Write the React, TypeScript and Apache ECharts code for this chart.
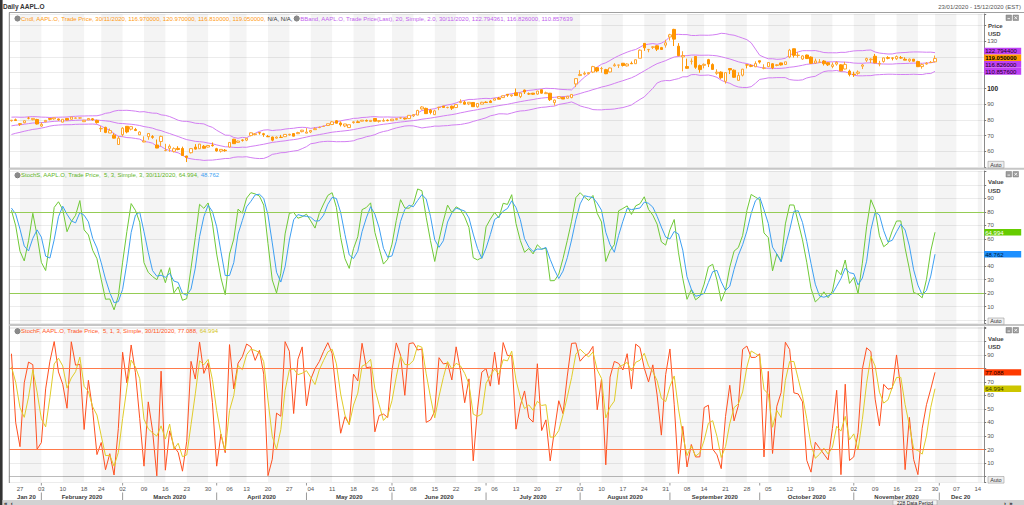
import React, { useEffect, useRef } from 'react';
import * as echarts from 'echarts';

const FONT = '"Liberation Sans", Arial, sans-serif';

// ---- calendar (trading days shown on the axis: 23/01/2020 - 15/12/2020) ----
const holidays = ['2020-02-17', '2020-04-10', '2020-05-25', '2020-07-03', '2020-09-07', '2020-11-26'];
const monthNames = ['Jan 20', 'February 2020', 'March 2020', 'April 2020', 'May 2020', 'June 2020', 'July 2020',
  'August 2020', 'September 2020', 'October 2020', 'November 2020', 'Dec 20'];

// ---- warm-up bars before the first visible day (needed by BBand 20 / Stoch 5) ----
const warmClose = [71.07, 72.48, 72.45, 72.88, 73.41, 75.09, 74.36, 74.95, 74.60, 75.80, 77.41, 77.58, 79.24, 78.17, 77.83, 78.81, 79.68, 79.14, 79.43];
const warmHigh = [71.22, 72.50, 73.49, 73.17, 73.42, 75.15, 75.14, 74.99, 75.22, 76.11, 77.61, 78.17, 79.27, 79.39, 78.88, 78.93, 79.68, 79.75, 79.99];
const warmLow = [70.73, 71.18, 72.03, 71.31, 72.38, 73.80, 74.13, 73.19, 74.37, 74.29, 76.55, 77.06, 77.79, 78.04, 77.39, 78.02, 78.75, 79.00, 79.33];

// ---- AAPL.O daily OHLC, 23/01/2020 - 30/11/2020 ----
const open = [
  79.48, 80.06, 77.51, 78.15, 81.11, 80.14, 80.23,
  76.07, 78.83, 80.88, 80.64, 80.59, 78.54, 80.90, 80.37, 81.05, 81.18, 78.84, 80.00, 80.66, 79.65, 74.32, 75.24, 71.63, 70.28, 64.32,
  70.57, 75.92, 74.11, 73.88, 70.50, 65.94, 69.29, 69.35, 63.99, 66.22, 60.49, 61.88, 59.94, 61.85, 61.79, 57.02, 59.09, 62.69, 61.63, 63.19, 62.69, 63.90,
  61.63, 60.09, 60.70, 62.73, 67.70, 65.68, 67.18, 67.08, 70.00, 70.60, 71.85, 71.17, 69.49, 69.07, 68.40, 68.97, 69.30, 70.45, 71.27, 71.18, 72.49,
  71.56, 72.29, 73.76, 75.11, 75.81, 76.41, 77.03, 79.46, 78.04, 76.13, 75.09, 78.29, 78.76, 79.17, 79.67, 78.94, 80.88, 79.04, 79.19, 79.81,
  79.44, 80.19, 81.17, 81.10, 80.84, 82.56, 83.04, 86.98, 87.33, 86.18, 83.31, 87.87, 88.79, 87.85, 88.66, 87.84, 91.00, 91.25, 90.18, 91.10, 88.31, 90.02,
  91.28, 91.96, 92.50, 93.85, 94.18, 96.26, 95.34, 97.27, 94.84, 98.99, 96.56, 96.99, 96.42, 99.17, 96.69, 96.99, 90.99, 93.71, 94.37, 93.75, 94.19, 102.89,
  108.20, 109.13, 109.38, 110.41, 113.21, 112.60, 111.97, 110.50, 114.43, 114.83, 116.06, 114.35, 115.98, 115.75, 119.26, 128.70, 124.70, 126.18, 127.14, 126.01, 127.58,
  132.76, 137.59, 126.91, 120.07, 113.95, 117.26, 120.36, 114.57, 114.72, 118.33, 115.23, 109.72, 110.40, 104.54, 112.68, 111.62, 105.17, 108.43, 115.01, 114.55, 113.79,
  117.64, 112.89, 113.91, 115.70, 114.62, 116.25, 115.28, 120.06, 125.27, 121.00, 118.72, 121.28, 119.96, 116.20, 116.67, 117.45, 116.39, 114.01, 115.49, 115.05, 112.37, 111.06,
  109.11, 109.66, 114.14, 117.95, 118.32, 120.50, 115.55, 117.19, 119.62, 119.44, 118.92, 119.55, 118.61, 117.59, 118.64, 117.18, 113.91, 115.55, 116.57, 116.97,
];
const high = [
  79.89, 80.83, 77.94, 79.60, 81.96, 81.02, 80.67,
  78.37, 79.91, 81.19, 81.31, 80.85, 80.39, 80.97, 81.81, 81.55, 81.50, 79.94, 81.14, 81.16, 80.11, 76.04, 75.63, 74.47, 71.50, 69.60,
  75.36, 76.00, 75.85, 74.89, 72.71, 69.52, 71.61, 70.31, 67.50, 69.98, 64.77, 64.40, 62.50, 63.21, 62.96, 57.13, 61.92, 64.56, 64.67, 63.97, 63.88, 65.62,
  62.18, 61.29, 61.43, 65.78, 67.93, 66.84, 67.52, 68.43, 72.06, 71.58, 72.05, 71.74, 70.42, 69.31, 69.48, 70.44, 70.75, 71.14, 71.46, 72.42, 73.63,
  74.75, 73.42, 75.25, 75.81, 76.29, 77.59, 79.26, 79.92, 78.99, 77.45, 76.97, 79.13, 79.63, 79.88, 80.22, 79.81, 81.06, 79.68, 80.86, 80.29,
  80.59, 80.86, 81.55, 81.40, 82.94, 83.40, 86.40, 88.69, 87.76, 86.95, 86.42, 88.30, 88.85, 88.36, 89.14, 89.87, 93.10, 92.20, 91.25, 91.33, 90.54, 91.50,
  91.84, 92.62, 93.95, 94.66, 95.38, 96.32, 95.98, 99.96, 97.26, 99.25, 97.41, 97.15, 98.50, 99.25, 97.97, 97.08, 92.97, 94.91, 94.55, 95.23, 96.30, 106.42,
  111.64, 110.79, 110.39, 114.41, 113.68, 113.78, 112.48, 113.28, 116.04, 115.00, 116.09, 116.00, 117.16, 118.39, 124.87, 128.79, 125.18, 126.99, 127.49, 126.44, 131.00,
  134.80, 137.98, 128.84, 123.70, 118.99, 119.14, 120.50, 115.23, 115.93, 118.83, 116.00, 112.20, 110.88, 110.19, 112.86, 112.11, 110.25, 112.44, 115.32, 115.31, 117.26,
  117.72, 115.37, 116.65, 116.12, 115.55, 116.40, 117.00, 125.18, 125.39, 123.03, 121.20, 121.55, 120.42, 118.98, 118.71, 118.04, 116.55, 116.55, 117.28, 115.43, 116.93, 111.99,
  110.68, 111.49, 115.59, 119.62, 119.20, 121.99, 117.59, 119.63, 120.53, 119.67, 120.99, 120.67, 119.82, 119.06, 118.77, 117.62, 115.85, 116.75, 117.49, 120.97,
];
const low = [
  78.91, 79.38, 76.22, 77.89, 80.35, 79.69, 77.07,
  75.56, 78.41, 79.74, 80.07, 79.50, 78.46, 79.68, 80.37, 80.84, 80.71, 78.65, 80.00, 79.55, 77.63, 72.31, 71.53, 71.63, 68.24, 64.09,
  69.43, 71.45, 73.28, 72.85, 70.31, 65.75, 67.34, 67.96, 62.00, 63.24, 60.00, 59.60, 59.28, 60.65, 57.00, 53.15, 58.58, 61.08, 61.59, 61.76, 62.35, 63.00,
  59.78, 59.22, 59.74, 62.35, 64.75, 65.31, 66.18, 66.46, 69.51, 70.16, 70.59, 69.21, 69.21, 66.36, 68.05, 68.72, 69.25, 69.99, 69.55, 70.97, 72.09,
  71.46, 71.58, 73.61, 74.72, 75.49, 76.07, 76.81, 77.73, 75.80, 75.38, 75.05, 77.58, 78.25, 79.04, 78.97, 78.84, 79.13, 78.27, 78.91, 79.12,
  79.30, 79.73, 80.58, 80.19, 80.81, 81.83, 83.00, 86.52, 83.87, 83.56, 83.15, 86.18, 87.77, 87.31, 86.29, 87.79, 90.57, 89.63, 89.39, 88.25, 87.82, 90.00,
  90.98, 90.91, 92.47, 93.06, 94.09, 94.67, 94.71, 95.26, 93.88, 96.49, 95.91, 95.84, 96.06, 96.74, 96.60, 92.01, 89.14, 93.48, 93.25, 93.71, 93.77, 100.83,
  107.89, 108.39, 108.90, 109.80, 110.29, 110.00, 109.11, 110.30, 113.93, 113.05, 113.96, 114.01, 115.61, 115.73, 119.25, 123.94, 123.05, 125.08, 123.83, 124.58, 126.00,
  130.53, 127.00, 120.50, 110.89, 112.68, 115.26, 112.50, 110.00, 112.80, 113.61, 112.04, 108.71, 106.09, 103.10, 109.16, 106.77, 105.00, 107.67, 112.78, 113.57, 113.62,
  115.83, 112.22, 113.55, 112.25, 114.13, 114.59, 114.92, 119.28, 119.65, 119.62, 118.15, 118.81, 115.66, 115.63, 116.45, 114.59, 114.28, 112.88, 114.54, 111.10, 112.20, 107.72,
  107.32, 108.73, 112.35, 116.87, 116.13, 116.05, 114.13, 116.44, 118.57, 117.87, 118.15, 118.96, 118.00, 116.81, 117.29, 113.75, 112.59, 115.17, 116.22, 116.81,
];
const close = [
  79.81, 79.58, 77.24, 79.42, 81.08, 80.97, 77.38,
  77.17, 79.71, 80.36, 81.30, 80.01, 80.39, 79.90, 81.80, 81.22, 81.24, 79.75, 80.90, 80.07, 78.26, 74.54, 72.02, 73.16, 68.38, 68.34,
  74.70, 72.33, 75.68, 73.23, 72.26, 66.54, 71.33, 68.86, 62.06, 69.49, 60.55, 63.22, 61.67, 61.19, 57.31, 56.09, 61.72, 61.38, 64.61, 61.94, 63.70, 63.57,
  60.23, 61.23, 60.35, 65.62, 64.86, 66.52, 67.00, 68.31, 71.76, 71.11, 71.67, 70.70, 69.23, 67.09, 69.03, 68.76, 70.74, 70.79, 69.64, 71.93, 73.45,
  72.27, 73.29, 74.39, 75.16, 75.93, 77.53, 78.75, 77.85, 76.91, 77.39, 76.93, 78.74, 78.29, 79.81, 79.21, 79.72, 79.18, 79.53, 79.56, 79.49,
  80.46, 80.83, 81.28, 80.58, 82.88, 83.36, 86.00, 88.21, 83.97, 84.70, 85.75, 88.02, 87.90, 87.93, 87.43, 89.72, 91.63, 90.01, 91.21, 88.41, 90.45, 91.20,
  91.03, 91.03, 93.46, 93.17, 95.34, 95.75, 95.92, 95.48, 97.06, 97.73, 96.52, 96.33, 98.36, 97.00, 97.27, 92.85, 92.61, 94.81, 93.25, 95.04, 96.19, 106.26,
  108.94, 109.67, 110.06, 113.90, 111.11, 112.73, 109.38, 113.01, 115.01, 114.91, 114.61, 115.56, 115.71, 118.28, 124.37, 125.86, 124.83, 126.52, 125.01, 124.81, 129.04,
  134.18, 131.40, 120.88, 120.96, 112.82, 117.32, 113.49, 112.00, 115.36, 115.54, 112.13, 110.34, 106.84, 110.08, 111.81, 107.12, 108.22, 112.28, 114.96, 114.09, 115.81,
  116.79, 113.02, 116.50, 113.16, 115.08, 114.97, 116.97, 124.40, 121.10, 121.19, 120.71, 119.02, 115.98, 117.51, 116.87, 115.75, 115.04, 115.05, 116.60, 111.20, 115.32, 108.86,
  108.77, 110.44, 114.95, 119.03, 118.69, 116.32, 115.97, 119.49, 119.21, 119.26, 120.30, 119.39, 118.03, 118.64, 117.34, 113.85, 115.17, 116.03, 116.59, 119.05,
];

// indicator parameters as stated in the chart's legends
const BB_PERIOD = 20;
const BB_MULT = 2.0;
const STOCH_K = 5;
const STOCH_SMOOTH = 3;

// y-axis tick labels shown
const priceTicks = [60, 70, 80, 90, 100, 110, 120, 130];
const oscTicks = [10, 20, 30, 40, 50, 60, 70, 80, 90];
const oscLevels = [80, 20];

// legend / label texts
const cndlText = 'Cndl, AAPL.O, Trade Price, 30/11/2020, 116.970000, 120.970000, 116.810000, 119.050000, ';
const naText = 'N/A, N/A, ';
const bbText = 'BBand, AAPL.O, Trade Price(Last), 20, Simple, 2.0, 30/11/2020, 122.794361, 116.826000, 110.857639';
const stochSText = 'StochS, AAPL.O, Trade Price,  5, 3, Simple, 3, 30/11/2020, 64.994, ';
const stochSText2 = '48.762';
const stochFText = 'StochF, AAPL.O, Trade Price,  5, 1, 3, Simple, 30/11/2020, 77.088, ';
const stochFText2 = '64.994';

// ---------------------------------------------------------------------------
function buildDates(): string[] {
  const out: string[] = [];
  const d = new Date(Date.UTC(2020, 0, 23));
  const end = Date.UTC(2020, 11, 15);
  while (d.getTime() <= end) {
    const dow = d.getUTCDay();
    const iso = d.toISOString().slice(0, 10);
    if (dow !== 0 && dow !== 6 && holidays.indexOf(iso) < 0) out.push(iso);
    d.setUTCDate(d.getUTCDate() + 1);
  }
  return out;
}
const dates = buildDates();
const weekKey = (iso: string) => {
  const d = new Date(iso + 'T00:00:00Z');
  const dow = d.getUTCDay();
  d.setUTCDate(d.getUTCDate() - (dow - 1));
  return d.toISOString().slice(0, 10);
};
const weekStarts: number[] = [];
const monthStarts: number[] = [];
dates.forEach((iso, i) => {
  if (i > 0 && weekKey(iso) !== weekKey(dates[i - 1])) weekStarts.push(i);
  if (i === 0 || iso.slice(5, 7) !== dates[i - 1].slice(5, 7)) monthStarts.push(i);
});
const weekStartSet = new Set(weekStarts);

const mean = (a: number[]) => a.reduce((s, x) => s + x, 0) / a.length;
const cAll = warmClose.concat(close);
const hAll = warmHigh.concat(high);
const lAll = warmLow.concat(low);
const W = warmClose.length;

const bbUpper: number[] = [];
const bbMiddle: number[] = [];
const bbLower: number[] = [];
for (let i = 0; i < close.length; i++) {
  const j = i + W;
  const win = cAll.slice(j - BB_PERIOD + 1, j + 1);
  const m = mean(win);
  const sd = Math.sqrt(mean(win.map((x) => (x - m) * (x - m))));
  bbMiddle.push(+m.toFixed(4));
  bbUpper.push(+(m + BB_MULT * sd).toFixed(4));
  bbLower.push(+(m - BB_MULT * sd).toFixed(4));
}
const rawK = cAll.map((c, j) => {
  if (j < STOCH_K - 1) return NaN;
  const hh = Math.max(...hAll.slice(j - STOCH_K + 1, j + 1));
  const ll = Math.min(...lAll.slice(j - STOCH_K + 1, j + 1));
  return hh === ll ? 50 : ((c - ll) / (hh - ll)) * 100;
});
const smooth = (arr: number[], n: number) => arr.map((_, j) => (j < n - 1 ? NaN : mean(arr.slice(j - n + 1, j + 1))));
const slowK = smooth(rawK, STOCH_SMOOTH);
const slowD = smooth(slowK, STOCH_SMOOTH);
const visible = (a: number[]) => a.slice(W).map((v) => +v.toFixed(3));
const stochSK = visible(slowK);
const stochSD = visible(slowD);
const stochFK = visible(rawK);
const stochFD = visible(slowK);
const candleData = open.map((o, i) => [o, close[i], low[i], high[i]]);

// alternating weekly shading
const stripeData: any[] = [];
for (let k = 0; k < weekStarts.length; k += 2) {
  const a = weekStarts[k];
  const b = k + 1 < weekStarts.length ? weekStarts[k + 1] : dates.length - 1;
  stripeData.push([{ xAxis: dates[a] }, { xAxis: dates[b] }]);
}
const stripes = () => ({ silent: true, itemStyle: { color: 'rgba(0,0,0,0.045)' }, data: stripeData });
const levels = (color: string) => ({
  silent: true, symbol: 'none', label: { show: false },
  lineStyle: { color, type: 'solid', width: 1 },
  data: oscLevels.map((v) => ({ yAxis: v })),
});

const LEFT = 9.3;
const RIGHT = 39.8;
const grids = [
  { top: 14, height: 153, min: 50, max: 147.4, split: 10 },
  { top: 171, height: 152, min: -2, max: 110.2, split: 11 },
  { top: 327, height: 155, min: -4, max: 110.6, split: 11 },
];

function labelFormatter(g: number, hidden: number[]) {
  const shown = g === 0 ? priceTicks : oscTicks;
  return (v: number) => {
    if (shown.indexOf(v) < 0 || hidden.indexOf(v) >= 0) return '';
    return v === 100 && g === 0 ? '{b|100}' : String(v);
  };
}

function yAxisFor(g: number) {
  return {
    type: 'value', gridIndex: g, position: 'right',
    min: grids[g].min, max: grids[g].max, splitNumber: grids[g].split,
    axisLine: { show: true, lineStyle: { color: '#8a8a8a' } },
    axisTick: { show: true, length: 2, lineStyle: { color: '#777' } },
    axisLabel: {
      fontSize: 6, color: '#555', margin: 3, fontFamily: FONT,
      formatter: labelFormatter(g, []),
      rich: { b: { fontSize: 6.5, fontWeight: 'bold', color: '#222', fontFamily: FONT } },
    },
    splitLine: { show: true, lineStyle: { color: '#ececec', width: 1 } },
  };
}

function buildOption(): any {
  return {
    animation: false,
    backgroundColor: '#ffffff',
    textStyle: { fontFamily: FONT },
    grid: grids.map((g) => ({ left: LEFT, right: RIGHT, top: g.top, height: g.height, containLabel: false, outerBoundsMode: 'none' })),
    xAxis: [0, 1, 2].map((g) => ({
      type: 'category', gridIndex: g, data: dates, boundaryGap: true,
      axisLine: { show: g === 2, lineStyle: { color: '#bcbcbc' } },
      axisTick: { show: false },
      axisLabel: {
        show: g === 2, fontSize: 6, color: '#555', margin: 4, fontFamily: FONT,
        interval: (index: number) => weekStartSet.has(index),
        formatter: (v: string) => v.slice(8, 10),
      },
      splitLine: { show: false },
    })),
    yAxis: [0, 1, 2].map(yAxisFor),
    series: [
      {
        type: 'candlestick', name: 'Cndl', xAxisIndex: 0, yAxisIndex: 0, data: candleData, barWidth: 3,
        itemStyle: { color: '#ffffff', color0: '#ff9500', borderColor: '#ffa52e', borderColor0: '#ff9500', borderWidth: 1 },
        markArea: stripes(), z: 3,
      },
      { type: 'line', name: 'BB upper', xAxisIndex: 0, yAxisIndex: 0, data: bbUpper, symbol: 'none', lineStyle: { color: '#d27ff2', width: 1 }, z: 2 },
      { type: 'line', name: 'BB mid', xAxisIndex: 0, yAxisIndex: 0, data: bbMiddle, symbol: 'none', lineStyle: { color: '#d27ff2', width: 1 }, z: 2 },
      { type: 'line', name: 'BB lower', xAxisIndex: 0, yAxisIndex: 0, data: bbLower, symbol: 'none', lineStyle: { color: '#d27ff2', width: 1 }, z: 2 },
      {
        type: 'line', name: 'StochS K', xAxisIndex: 1, yAxisIndex: 1, data: stochSK, symbol: 'none',
        lineStyle: { color: '#6fc936', width: 1 }, markArea: stripes(), markLine: levels('#95cc55'), z: 3,
      },
      { type: 'line', name: 'StochS D', xAxisIndex: 1, yAxisIndex: 1, data: stochSD, symbol: 'none', lineStyle: { color: '#3d9ff2', width: 1 }, z: 3 },
      {
        type: 'line', name: 'StochF K', xAxisIndex: 2, yAxisIndex: 2, data: stochFK, symbol: 'none',
        lineStyle: { color: '#ff5020', width: 1 }, markArea: stripes(), markLine: levels('#ff7a4a'), z: 3,
      },
      { type: 'line', name: 'StochF D', xAxisIndex: 2, yAxisIndex: 2, data: stochFD, symbol: 'none', lineStyle: { color: '#e0cc2a', width: 1 }, z: 3 },
    ],
  };
}

function stack(ys: number[], h: number): number[] {
  const order = ys.map((y, i) => ({ y, i })).sort((a, b) => a.y - b.y);
  const clusters: { idx: number[]; top: number }[] = [];
  for (const o of order) {
    clusters.push({ idx: [o.i], top: o.y - h / 2 });
    while (clusters.length > 1) {
      const a = clusters[clusters.length - 2];
      const b = clusters[clusters.length - 1];
      if (a.top + a.idx.length * h > b.top) {
        const idx = a.idx.concat(b.idx);
        const m = mean(idx.map((k) => ys[k]));
        clusters.splice(clusters.length - 2, 2, { idx, top: m - (idx.length * h) / 2 });
      } else break;
    }
  }
  const out: number[] = [];
  clusters.forEach((c) => c.idx.forEach((k, j) => { out[k] = c.top + j * h + h / 2; }));
  return out;
}

function txt(x: number, y: number, text: string, opts: any = {}) {
  return {
    type: 'text', x, y, silent: true, z: 50,
    style: {
      text, fontSize: opts.size || 6, fontFamily: FONT, fontWeight: opts.bold ? 'bold' : 'normal',
      fill: opts.color || '#444', textAlign: opts.align || 'left', textVerticalAlign: 'middle',
    },
  };
}

const seg = (color: string) => ({ fill: color, color, fontSize: 6, fontFamily: FONT });

function buildExtras(chart: any): { graphic: any[]; hidden: number[][] } {
  const g: any[] = [];
  const hidden: number[][] = [[], [], []];
  const px = (i: number) => chart.convertToPixel({ xAxisIndex: 2 }, i);
  const py = (axis: number, v: number) => chart.convertToPixel({ yAxisIndex: axis }, v);
  const AX = 1024 - RIGHT;

  // frame pieces
  g.push({ type: 'rect', shape: { x: 0, y: 0, width: 2.6, height: 505 }, style: { fill: '#333' }, z: 40 });
  g.push({ type: 'line', shape: { x1: 9, y1: 12.5, x2: 1024, y2: 12.5 }, style: { stroke: '#a0a0a0', lineWidth: 1 }, z: 40 });
  g.push({ type: 'line', shape: { x1: LEFT, y1: 12.5, x2: LEFT, y2: 483 }, style: { stroke: '#8a8a8a', lineWidth: 1 }, z: 40 });
  [168.8, 325].forEach((y) => g.push({ type: 'rect', shape: { x: LEFT, y: y - 1, width: 1024 - LEFT, height: 2 }, style: { fill: '#c6c6c6' }, z: 40 }));

  // header
  g.push(txt(3, 6.5, 'Daily AAPL.O', { bold: true, size: 6.5, color: '#333' }));
  g.push(txt(1021, 6.5, '23/01/2020 - 15/12/2020 (EST)', { align: 'right', color: '#555' }));

  // panel legends
  const icon = { width: 5, height: 5, backgroundColor: '#8a8a8a', borderRadius: 3, borderColor: '#666', borderWidth: 0.5 };
  const legend = (y: number, text: string, rich: any) => ({
    type: 'text', x: 15, y, silent: true, z: 50,
    style: { text, fontSize: 6, fontFamily: FONT, textVerticalAlign: 'middle', rich },
  });
  g.push(legend(18.5, `{ic| }{sp| }{o|${cndlText}}{k|${naText}}{ic| }{sp| }{v|${bbText}}`, {
    ic: icon, sp: { width: 1 },
    o: seg('#ff9a12'),
    k: seg('#333333'),
    v: seg('#c25fee'),
  }));
  g.push(legend(175.3, `{ic| }{sp| }{a|${stochSText}}{b|${stochSText2}}`, {
    ic: icon, sp: { width: 1 },
    a: seg('#5fb526'),
    b: seg('#3d9ff2'),
  }));
  g.push(legend(331.2, `{ic| }{sp| }{a|${stochFText}}{b|${stochFText2}}`, {
    ic: icon, sp: { width: 1 },
    a: seg('#ff5424'),
    b: seg('#d4c41c'),
  }));

  // axis titles, window icons, Auto buttons
  const titles = [['Price', 25.5, 'USD', 34], ['Value', 182.3, 'USD', 190.5], ['Value', 339, 'USD', 347]];
  titles.forEach(([a, ya, b, yb]: any) => {
    g.push(txt(988, ya, a, { bold: true, color: '#444' }));
    g.push(txt(988, yb, b, { bold: true, color: '#444' }));
  });
  [15, 171.5, 327.5].forEach((y) => {
    [1006, 1013].forEach((x, k) => {
      g.push({ type: 'rect', shape: { x, y, width: 5.5, height: 5.5 }, style: { fill: '#9c9c9c', stroke: '#7a7a7a', lineWidth: 0.5 }, z: 45 });
      if (k === 0) g.push({ type: 'line', shape: { x1: x + 1.5, y1: y + 3.6, x2: x + 4, y2: y + 3.6 }, style: { stroke: '#fff', lineWidth: 0.8 }, z: 46 });
      else {
        g.push({ type: 'line', shape: { x1: x + 1.4, y1: y + 1.4, x2: x + 4.1, y2: y + 4.1 }, style: { stroke: '#fff', lineWidth: 0.8 }, z: 46 });
        g.push({ type: 'line', shape: { x1: x + 4.1, y1: y + 1.4, x2: x + 1.4, y2: y + 4.1 }, style: { stroke: '#fff', lineWidth: 0.8 }, z: 46 });
      }
    });
  });
  [161.3, 318, 476.5].forEach((y) => {
    g.push({ type: 'rect', shape: { x: 988, y, width: 16, height: 6.6 }, style: { fill: '#eeeeee', stroke: '#9a9a9a', lineWidth: 0.6 }, z: 45 });
    g.push(txt(996, y + 3.4, 'Auto', { align: 'center', size: 5.5, color: '#333' }));
  });

  // last-value boxes on the right axes (they cover the tick labels beneath them)
  const boxSets = [
    {
      axis: 0, h: 6.7, ticks: priceTicks, items: [
        { v: bbUpper[bbUpper.length - 1], t: bbUpper[bbUpper.length - 1].toFixed(6), bg: '#c040f5', fg: '#1a001a' },
        { v: close[close.length - 1], t: close[close.length - 1].toFixed(6), bg: '#ff9a00', fg: '#000', bold: true },
        { v: bbMiddle[bbMiddle.length - 1], t: bbMiddle[bbMiddle.length - 1].toFixed(6), bg: '#c040f5', fg: '#1a001a' },
        { v: bbLower[bbLower.length - 1], t: bbLower[bbLower.length - 1].toFixed(6), bg: '#c040f5', fg: '#1a001a' },
      ],
    },
    {
      axis: 1, h: 6.4, ticks: oscTicks, items: [
        { v: stochSK[stochSK.length - 1], t: stochSK[stochSK.length - 1].toFixed(3), bg: '#66cc00', fg: '#ffffff' },
        { v: stochSD[stochSD.length - 1], t: stochSD[stochSD.length - 1].toFixed(3), bg: '#1e90ff', fg: '#001a33' },
      ],
    },
    {
      axis: 2, h: 6.4, ticks: oscTicks, items: [
        { v: stochFK[stochFK.length - 1], t: stochFK[stochFK.length - 1].toFixed(3), bg: '#ff3a00', fg: '#220000' },
        { v: stochFD[stochFD.length - 1], t: stochFD[stochFD.length - 1].toFixed(3), bg: '#cdc600', fg: '#333300' },
      ],
    },
  ];
  boxSets.forEach((set) => {
    const ys = stack(set.items.map((it) => py(set.axis, it.v)), set.h);
    set.items.forEach((it: any, k) => {
      g.push({ type: 'rect', shape: { x: AX, y: ys[k] - set.h / 2, width: 37, height: set.h }, style: { fill: it.bg }, z: 47 });
      g.push(txt(AX + 1, ys[k] + 0.3, it.t, { color: it.fg, bold: !!it.bold, size: 6 }));
    });
    set.ticks.forEach((t) => {
      const ty = py(set.axis, t);
      if (ys.some((y) => Math.abs(y - ty) < set.h / 2 + 2.8)) hidden[set.axis].push(t);
    });
  });

  // month row of the time axis
  monthStarts.forEach((s, m) => {
    const x0 = px(s);
    const x1 = m + 1 < monthStarts.length ? px(monthStarts[m + 1]) : px(dates.length - 1);
    g.push(txt((x0 + x1) / 2, 496.5, monthNames[m], { align: 'center', bold: true, color: '#3a3a3a' }));
    if (m > 0) {
      g.push({ type: 'line', shape: { x1: x0, y1: 492.5, x2: x0, y2: 500 }, style: { stroke: '#9a9a9a', lineWidth: 1 }, z: 45 });
      g.push({ type: 'line', shape: { x1: x0, y1: 483, x2: x0, y2: 485.5 }, style: { stroke: '#9a9a9a', lineWidth: 1 }, z: 45 });
    }
  });

  // bottom scroll bar
  g.push({ type: 'rect', shape: { x: 2.6, y: 500, width: 1021.4, height: 5 }, style: { fill: '#d2d2d2' }, z: 40 });
  g.push(txt(4, 502.8, '«  ‹', { bold: true, size: 6, color: '#222' }));
  g.push({ type: 'rect', shape: { x: 893, y: 500, width: 44, height: 5 }, style: { fill: '#f2f2f2', stroke: '#999', lineWidth: 0.5 }, z: 45 });
  g.push(txt(915, 502.8, `${dates.length} Data Period`, { align: 'center', size: 5, color: '#222' }));
  g.push(txt(1004, 502.8, '›  »', { bold: true, size: 6, color: '#222' }));
  return { graphic: g, hidden };
}

export default function App() {
  const ref = useRef<HTMLDivElement>(null);
  useEffect(() => {
    const chart = echarts.init(ref.current as HTMLDivElement, null, { renderer: 'svg' });
    chart.setOption(buildOption());
    const extras = buildExtras(chart);
    chart.setOption({
      graphic: extras.graphic,
      yAxis: [0, 1, 2].map((g) => ({ axisLabel: { formatter: labelFormatter(g, extras.hidden[g]) } })),
    });
    return () => chart.dispose();
  }, []);
  return <div ref={ref} style={{ position: 'fixed', left: 0, top: 0, width: 1024, height: 505, background: '#fff' }} />;
}
